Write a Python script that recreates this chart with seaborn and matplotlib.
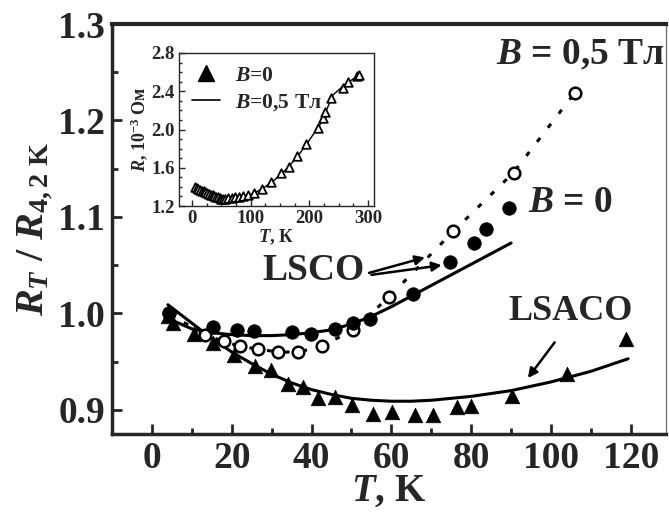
import matplotlib
matplotlib.use('Agg')
import matplotlib.pyplot as plt
from matplotlib.lines import Line2D
from matplotlib.ticker import MultipleLocator
import seaborn as sns
import pandas as pd

# ---------------- data ----------------
# LSCO, B = 0 (filled circles)
lsco_b0_T = [4.2, 15.4, 21.2, 25.5, 35.1, 39.9, 45.8, 50.4, 54.7, 65.4, 74.7, 80.8, 83.7, 89.4]
lsco_b0_R = [1.000, 0.986, 0.983, 0.982, 0.981, 0.979, 0.984, 0.990, 0.994, 1.020, 1.053, 1.0735, 1.088, 1.1095]
# LSCO, B = 0.5 T (open circles)
lsco_b5_T = [4.2, 13.2, 18.0, 22.0, 26.6, 31.6, 36.7, 42.6, 50.4, 59.4, 75.5, 90.6, 106.0]
lsco_b5_R = [1.000, 0.978, 0.971, 0.966, 0.963, 0.960, 0.960, 0.966, 0.983, 1.017, 1.085, 1.146, 1.229]
# LSCO fit line (B = 0)
lsco_fit_T = [5, 10, 15, 20, 25, 30, 35, 40, 45, 50, 55, 60, 65, 70, 75, 80, 85, 90]
lsco_fit_R = [0.993, 0.984, 0.980, 0.978, 0.977, 0.977, 0.978, 0.980, 0.983, 0.989, 0.997, 1.007, 1.018, 1.029, 1.040, 1.051, 1.062, 1.073]
# LSACO (triangles)
lsaco_T = [4.1, 5.2, 10.5, 15.4, 20.5, 25.8, 29.8, 34.1, 37.8, 41.6, 45.8, 50.1, 55.5, 60.1, 65.8, 70.4, 76.5, 80.0, 90.2, 104.0, 118.9]
lsaco_R = [0.997, 0.990, 0.979, 0.969, 0.957, 0.946, 0.941, 0.927, 0.924, 0.912, 0.913, 0.905, 0.896, 0.898, 0.895, 0.895, 0.903, 0.904, 0.914, 0.937, 0.974]
# LSACO fit line
lsaco_fit_T = [4, 10, 15, 20, 25, 30, 35, 40, 45, 50, 55, 60, 65, 70, 80, 90, 100, 110, 119.3]
lsaco_fit_R = [1.009, 0.990, 0.974, 0.960, 0.948, 0.937, 0.928, 0.921, 0.916, 0.912, 0.910, 0.909, 0.909, 0.910, 0.914, 0.920, 0.929, 0.940, 0.953]

# Inset: R (10^-3 Ohm) vs T
inset_T = [5, 8, 11, 14, 17, 20, 23, 26, 29, 32, 35, 38, 41, 44, 47, 50, 53, 57, 62, 68, 74, 80, 87, 95,
           105.6, 120, 134.6, 151.6, 166, 179, 195, 215, 223, 227, 237, 257, 265, 280.5, 285]
inset_R = [1.40, 1.39, 1.38, 1.37, 1.36, 1.355, 1.35, 1.34, 1.33, 1.32, 1.31, 1.30, 1.295, 1.29, 1.28, 1.275,
           1.27, 1.27, 1.28, 1.285, 1.29, 1.29, 1.30, 1.31,
           1.333, 1.378, 1.448, 1.548, 1.608, 1.726, 1.852, 2.02, 2.124, 2.186, 2.333, 2.437, 2.494, 2.557, 2.57]
inset_line_T = [5, 20, 40, 60, 80, 100, 120, 140, 160, 180, 200, 220, 240, 260, 285]
inset_line_R = [1.39, 1.35, 1.31, 1.27, 1.28, 1.32, 1.38, 1.47, 1.58, 1.72, 1.89, 2.07, 2.36, 2.47, 2.57]

x_ticks = [0, 20, 40, 60, 80, 100, 120]
y_ticks = [0.9, 1.0, 1.1, 1.2, 1.3]

# ---------------- style ----------------
sns.set_theme(style='ticks')
plt.rcParams['font.family'] = ['Liberation Serif', 'DejaVu Serif']
plt.rcParams['font.weight'] = 'bold'
plt.rcParams['axes.labelweight'] = 'bold'
plt.rcParams['mathtext.fontset'] = 'custom'
plt.rcParams['mathtext.rm'] = 'Liberation Serif:bold'
plt.rcParams['mathtext.it'] = 'Liberation Serif:italic:bold'
plt.rcParams['mathtext.bf'] = 'Liberation Serif:bold'

fig = plt.figure(figsize=(6.69, 5.14), dpi=100)
ax = fig.add_axes([0.1674, 0.1556, 0.8281, 0.7977])

# lines
sns.lineplot(x=lsco_fit_T, y=lsco_fit_R, ax=ax, color='black', lw=2.2, sort=False, estimator=None)
sns.lineplot(x=lsaco_fit_T, y=lsaco_fit_R, ax=ax, color='black', lw=2.2, sort=False, estimator=None)
ax.plot(lsco_b5_T, lsco_b5_R, color='black', lw=2.2, linestyle=(0, (1.6, 4.2)), zorder=2)

# markers
sns.scatterplot(x=lsaco_T, y=lsaco_R, ax=ax, marker='^', s=110, color='black', edgecolor='black', linewidth=0.5, zorder=3)
sns.scatterplot(x=lsco_b5_T, y=lsco_b5_R, ax=ax, marker='o', s=70, facecolor='white', edgecolor='black', linewidth=1.8, zorder=4)
sns.scatterplot(x=lsco_b0_T, y=lsco_b0_R, ax=ax, marker='o', s=95, color='black', edgecolor='black', linewidth=0.5, zorder=5)

ax.set_xlim(-10, 128.8)
ax.set_ylim(0.875, 1.3)
ax.set_xticks(x_ticks)
ax.set_yticks(y_ticks)
ax.set_xticklabels([str(v) for v in x_ticks])
ax.set_yticklabels([f'{v:.1f}' for v in y_ticks])
ax.xaxis.set_minor_locator(MultipleLocator(10))
ax.yaxis.set_minor_locator(MultipleLocator(0.05))
ax.tick_params(which='major', direction='in', length=7, width=2, labelsize=27, pad=5)
ax.tick_params(which='minor', direction='in', length=4, width=2)
for lab in ax.get_xticklabels() + ax.get_yticklabels():
    lab.set_fontweight('bold')

for s in ['left', 'bottom']:
    ax.spines[s].set_linewidth(2.5)
ax.spines['top'].set_linewidth(3)
ax.spines['right'].set_linewidth(1)
ax.spines['right'].set_color('#777777')

ax.set_xlabel('$T$, K', fontsize=28, labelpad=-2)
ax.set_ylabel('$R_T$ / $R_{\\mathrm{4,2\\ K}}$', fontsize=29, labelpad=2)

# annotations
ax.text(107.3, 1.268, '$B$ = 0,5 Тл', fontsize=27, ha='center', va='center')
ax.text(104.8, 1.1145, '$B$ = 0', fontsize=27, ha='center', va='center')
ax.text(40.4, 1.045, 'LSCO', fontsize=27, ha='center', va='center')
ax.text(104.8, 1.0016, 'LSACO', fontsize=26, ha='center', va='center')
arrow = dict(arrowstyle='-|>', lw=1.8, color='black', mutation_scale=14, shrinkA=0, shrinkB=0)
ax.annotate('', xy=(68.4, 1.058), xytext=(54.4, 1.042), arrowprops=arrow)
ax.annotate('', xy=(72.6, 1.050), xytext=(55.0, 1.040), arrowprops=arrow)
ax.annotate('', xy=(94.2, 0.933), xytext=(100.9, 0.970), arrowprops=arrow)

# ---------------- inset ----------------
ins = fig.add_axes([0.2676, 0.5992, 0.2915, 0.2977])
sns.lineplot(x=inset_line_T, y=inset_line_R, ax=ins, color='black', lw=1.0, sort=False, estimator=None)
sns.scatterplot(x=inset_T, y=inset_R, ax=ins, marker='^', s=38, facecolor='white', edgecolor='black', linewidth=1.3, zorder=3)
ins.set_xlim(-22, 310)
ins.set_ylim(1.2, 2.8)
ins.set_xticks([0, 100, 200, 300])
ins.set_yticks([1.2, 1.6, 2.0, 2.4, 2.8])
ins.set_yticklabels(['1.2', '1.6', '2.0', '2.4', '2.8'])
ins.xaxis.set_minor_locator(MultipleLocator(25))
ins.yaxis.set_minor_locator(MultipleLocator(0.1))
ins.tick_params(which='major', direction='in', length=4, width=1, labelsize=13.5, pad=3)
ins.tick_params(which='minor', direction='in', length=2, width=1)
for s in ins.spines.values():
    s.set_linewidth(1)
ins.set_xlabel('$T$, К', fontsize=13.5, labelpad=0)
ins.set_ylabel('$R$, 10$^{-3}$ Ом', fontsize=13, labelpad=1)
handles = [Line2D([], [], marker='^', color='black', linestyle='none', markersize=12),
           Line2D([], [], color='black', lw=1.2)]
ins.legend(handles, ['$B$=0', '$B$=0,5 Тл'], loc='upper left', frameon=False, fontsize=15.5,
           handlelength=1.3, handletextpad=0.7, borderaxespad=0.2, labelspacing=0.3)

fig.savefig('out.png', dpi=100, facecolor='white')
